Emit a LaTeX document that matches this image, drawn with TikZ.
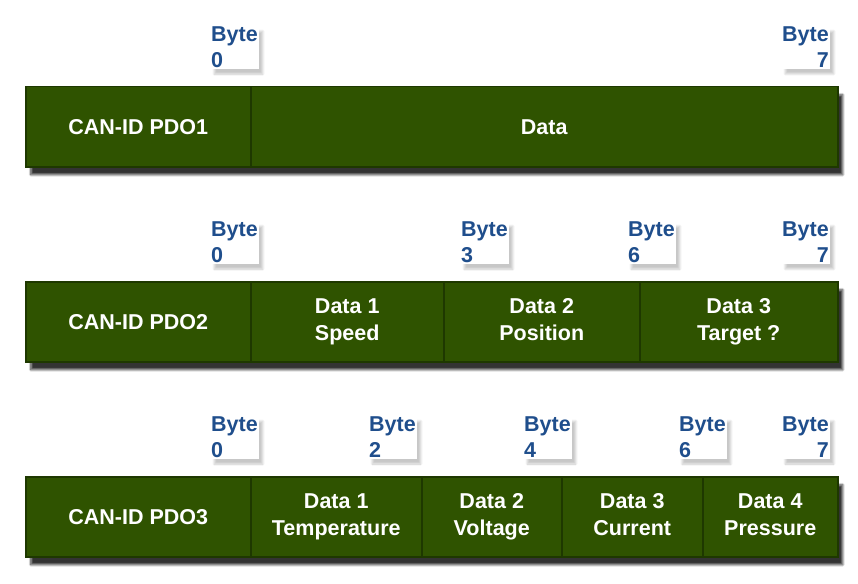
\documentclass[tikz,border=0pt]{standalone}
\usepackage{fontspec}
\setmainfont{Liberation Sans}
\usetikzlibrary{shadows.blur}
\definecolor{cellgreen}{RGB}{47,83,0}
\definecolor{celledge}{RGB}{30,56,0}
\definecolor{bytelabel}{RGB}{31,78,140}
\begin{document}
\begin{tikzpicture}[x=1pt,y=-1pt,
  frame/.style={draw=celledge, line width=1.5pt, fill=cellgreen, inner sep=0pt,
    minimum height=80pt, anchor=north west,
    blur shadow={shadow xshift=5pt, shadow yshift=-8pt, shadow blur steps=12, shadow opacity=80}},
  cell/.style={draw=celledge, line width=1.5pt, fill=cellgreen, text=white,
    font=\bfseries\fontsize{21.5}{27}\selectfont, align=center, inner sep=0pt,
    minimum height=80pt, anchor=north west,
    execute at begin node={\rule[-4pt]{0pt}{24pt}},
    execute at end node={\rule[-4pt]{0pt}{24pt}}},
  bytelbl/.style={text=bytelabel, font=\bfseries\fontsize{21.5}{26}\selectfont,
    inner sep=1pt, fill=white,
    blur shadow={shadow xshift=4pt, shadow yshift=-5pt, shadow opacity=22, shadow blur steps=10}},
  bl/.style={bytelbl, align=left, anchor=north west},
  br/.style={bytelbl, align=right, anchor=north east},
]
\useasboundingbox (0,0) rectangle (858,583);

% Row 1
\node[frame, minimum width=812pt] (f1) at (25,86) {};
\node[cell, minimum width=225pt] (r1id) at (25,86) {CAN-ID PDO1};
\node[cell, minimum width=587pt] (r1d) at (250,86) {Data};
\node[bl] (l1a) at (210,26) {Byte\\0};
\node[br] (l1b) at (830,26) {Byte\\7};

% Row 2
\node[frame, minimum width=812pt] (f2) at (25,281) {};
\node[cell, minimum width=225pt] (r2id) at (25,281) {CAN-ID PDO2};
\node[cell, minimum width=193pt] (r2a) at (250,281) {Data 1\\Speed};
\node[cell, minimum width=196pt] (r2b) at (443,281) {Data 2\\Position};
\node[cell, minimum width=198pt] (r2c) at (639,281) {Data 3\\Target ?};
\node[bl] (l2a) at (210,221) {Byte\\0};
\node[bl] (l2b) at (460,221) {Byte\\3};
\node[bl] (l2c) at (627,221) {Byte\\6};
\node[br] (l2d) at (830,221) {Byte\\7};

% Row 3
\node[frame, minimum width=812pt] (f3) at (25,476) {};
\node[cell, minimum width=225pt] (r3id) at (25,476) {CAN-ID PDO3};
\node[cell, minimum width=171pt] (r3a) at (250,476) {Data 1\\Temperature};
\node[cell, minimum width=140pt] (r3b) at (421,476) {Data 2\\Voltage};
\node[cell, minimum width=141pt] (r3c) at (561,476) {Data 3\\Current};
\node[cell, minimum width=135pt] (r3d) at (702,476) {Data 4\\Pressure};
\node[bl] (l3a) at (210,416) {Byte\\0};
\node[bl] (l3b) at (368,416) {Byte\\2};
\node[bl] (l3c) at (523,416) {Byte\\4};
\node[bl] (l3d) at (678,416) {Byte\\6};
\node[br] (l3e) at (830,416) {Byte\\7};
\end{tikzpicture}
\end{document}
